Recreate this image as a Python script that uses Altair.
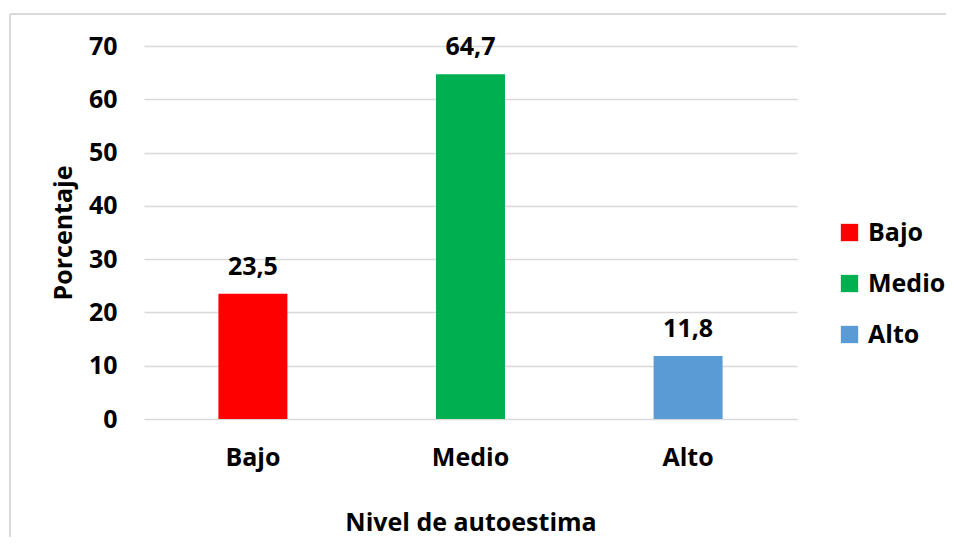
import altair as alt
import pandas as pd

categories = ["Bajo", "Medio", "Alto"]
values = [23.5, 64.7, 11.8]
colors = ["#FF0000", "#00B050", "#5B9BD5"]
y_ticks = [0, 10, 20, 30, 40, 50, 60, 70]

df = pd.DataFrame({"nivel": categories, "pct": values})
FONT = "Open Sans"
FS = 25

x_enc = alt.X("nivel:N", sort=categories,
              scale=alt.Scale(paddingInner=0.683, paddingOuter=0.342),
              axis=alt.Axis(title="Nivel de autoestima", labelAngle=0, domain=False, ticks=False,
                            labelPadding=26, titlePadding=40, labelFontSize=FS, titleFontSize=FS,
                            labelFont=FONT, titleFont=FONT, labelFontWeight="bold", titleFontWeight="bold",
                            labelColor="#000000", titleColor="#000000"))
y_enc = alt.Y("pct:Q", scale=alt.Scale(domain=[0, 70], nice=False),
              axis=alt.Axis(title="Porcentaje", values=y_ticks, domain=False, ticks=False,
                            labelPadding=27, titlePadding=12, labelFontSize=FS, titleFontSize=FS,
                            labelFont=FONT, titleFont=FONT, labelFontWeight="bold", titleFontWeight="bold",
                            labelColor="#000000", titleColor="#000000",
                            gridColor="#D9D9D9", gridWidth=1.3))

bars = alt.Chart(df).mark_bar().encode(
    x=x_enc, y=y_enc,
    color=alt.Color("nivel:N", sort=categories,
                    scale=alt.Scale(domain=categories, range=colors),
                    legend=alt.Legend(title=None, orient="none", legendX=693, legendY=174,
                                      symbolType="square", symbolSize=300, symbolStrokeWidth=0,
                                      labelFontSize=FS, labelFont=FONT, labelFontWeight="bold",
                                      labelColor="#000000", rowPadding=25, labelOffset=6)),
)

labels = alt.Chart(df).transform_calculate(
    lab="replace(format(datum.pct, '.1f'), '.', ',')"
).mark_text(baseline="alphabetic", dy=-19, fontSize=FS, font=FONT, fontWeight="bold", color="#000000").encode(
    x=alt.X("nivel:N", sort=categories), y="pct:Q", text="lab:N")

frame = alt.Chart(df).mark_rule(color="#D9D9D9", strokeWidth=1.5).encode(
    x=alt.value(-134), x2=alt.value(-134), y=alt.value(-32), y2=alt.value(600))
frame_top = alt.Chart(df).mark_rule(color="#D9D9D9", strokeWidth=1.5).encode(
    x=alt.value(-134), x2=alt.value(1000), y=alt.value(-32), y2=alt.value(-32))

chart = alt.layer(bars, labels, frame, frame_top).properties(
    width=653, height=373,
    autosize=alt.AutoSizeParams(type="none"),
    padding={"left": 136, "top": 38, "right": 149, "bottom": 118},
).configure(background="white").configure_view(stroke=None)

chart.save("out.html", embed_options={"renderer": "svg", "actions": False})
